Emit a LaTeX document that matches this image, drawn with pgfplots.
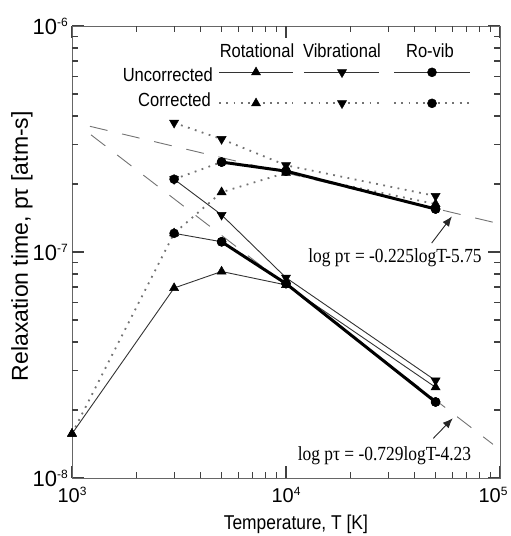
\documentclass[border=0pt]{standalone}
\usepackage{fontspec}
\setmainfont{Liberation Sans}
\newfontfamily\narrowsans[FakeStretch=0.87]{Liberation Sans}
\newfontfamily\narrowserif[FakeStretch=0.87]{Liberation Serif}
\usepackage{pgfplots}
\pgfplotsset{compat=1.18}
\usetikzlibrary{arrows.meta}
\tikzset{tk/.style={draw=black!75, line width=1.2pt}}
\newcommand{\ytl}[1]{\fontsize{22}{22}\selectfont 10\raisebox{8pt}{\fontsize{12}{12}\selectfont #1}}
\newcommand{\xtl}[1]{\fontsize{20}{20}\selectfont 10\raisebox{7pt}{\fontsize{12}{12}\selectfont #1}}
\begin{document}
\begin{tikzpicture}
\begin{axis}[
  xmode=log, ymode=log,
  xmin=1000, xmax=100000, ymin=1e-8, ymax=1e-6,
  scale only axis, width=428pt, height=452pt,
  clip=false,
  axis line style={black!60, line width=0.9pt},
  tickwidth=12pt, subtickwidth=6pt,
  tick align=inside,
  tick style={draw=black!75, line width=1.2pt},
  xtick={1000,10000,100000},
  xticklabels={\xtl{3},\xtl{4},\xtl{5}\kern14pt},
  minor xtick={2000,3000,4000,5000,6000,7000,8000,9000,20000,30000,40000,50000,60000,70000,80000,90000},
  ytick={1e-8,1e-7,1e-6},
  yticklabels={\ytl{-8},\ytl{-7},\ytl{-6}},
  minor ytick={2e-8,3e-8,4e-8,5e-8,6e-8,7e-8,8e-8,9e-8,2e-7,3e-7,4e-7,5e-7,6e-7,7e-7,8e-7,9e-7},
  xticklabel style={anchor=north, inner sep=0pt, yshift=-9pt},
  yticklabel style={anchor=base east, inner sep=0pt, xshift=-4pt, yshift=-8pt},
  thinl/.style={black!80, line width=0.9pt},
  dots/.style={black!55, line width=1.8pt, dash pattern=on 1.8pt off 5.5pt},
  fitl/.style={black!55, line width=0.9pt, dash pattern=on 18pt off 15pt},
  mu/.style={mark=triangle*, mark size=5.2pt, mark options={solid, black, fill=black, line width=0.5pt}},
  md/.style={mark=triangle*, mark size=5.2pt, mark options={solid, black, fill=black, rotate=180, line width=0.5pt}},
  mc/.style={mark=*, mark size=4.5pt, mark options={solid, black, fill=black, line width=0.5pt}},
]
% tick marks on all four sides (positions as fractions of the axis)
\pgfplotsinvokeforeach{0.15051,0.23856,0.30103,0.34949,0.38908,0.42255,0.45154,0.47712,0.65051,0.73856,0.80103,0.84949,0.88908,0.92255,0.95154,0.97712}{
  \draw[tk] (rel axis cs:#1,0) -- (rel axis cs:#1,0.013274);
  \draw[tk] (rel axis cs:#1,1) -- (rel axis cs:#1,0.986726);
  \draw[tk] (rel axis cs:0,#1) -- (rel axis cs:0.014019,#1);
  \draw[tk] (rel axis cs:1,#1) -- (rel axis cs:0.985981,#1);
}
\draw[tk] (rel axis cs:0.5,0) -- (rel axis cs:0.5,0.026549);
\draw[tk] (rel axis cs:0.5,1) -- (rel axis cs:0.5,0.973451);
\draw[tk] (rel axis cs:0,0.5) -- (rel axis cs:0.028037,0.5);
\draw[tk] (rel axis cs:1,0.5) -- (rel axis cs:0.971963,0.5);

% fitted lines
\addplot[fitl] coordinates {(1213,3.60e-7) (92700,1.355e-7)};
\addplot[fitl] coordinates {(1227,3.30e-7) (92700,1.41e-8)};

% corrected (dotted)
\addplot[dots, mu] coordinates {(1000,1.57e-8) (3000,1.21e-7) (5000,1.84e-7) (10000,2.24e-7) (50000,1.63e-7)};
\addplot[dots, md] coordinates {(3000,3.73e-7) (5000,3.16e-7) (10000,2.42e-7) (50000,1.77e-7)};
\addplot[dots, mc] coordinates {(3000,2.10e-7) (5000,2.50e-7) (10000,2.28e-7) (50000,1.55e-7)};

% uncorrected (solid)
\addplot[thinl, mu] coordinates {(1000,1.57e-8) (3000,6.93e-8) (5000,8.2e-8) (10000,7.15e-8) (50000,2.52e-8)};
\addplot[thinl, md] coordinates {(3000,2.10e-7) (5000,1.46e-7) (10000,7.7e-8) (50000,2.70e-8)};
\addplot[thinl, mc] coordinates {(3000,1.21e-7) (5000,1.11e-7) (10000,7.25e-8) (50000,2.17e-8)};

% thick emphasised ro-vib segments
\addplot[black, line width=3pt, mc] coordinates {(5000,2.50e-7) (10000,2.28e-7) (50000,1.55e-7)};
\addplot[black, line width=3pt, mc] coordinates {(5000,1.11e-7) (10000,7.25e-8) (50000,2.17e-8)};

% legend samples
\addplot[thinl, mu, mark indices={2}] coordinates {(4864,6.24e-7) (7244,6.24e-7) (10783,6.24e-7)};
\addplot[thinl, md, mark indices={2}] coordinates {(12130,6.24e-7) (18270,6.24e-7) (27200,6.24e-7)};
\addplot[thinl, mc, mark indices={2}] coordinates {(31970,6.24e-7) (48110,6.24e-7) (72390,6.24e-7)};
\addplot[dots, mu, mark indices={2}] coordinates {(4864,4.55e-7) (7244,4.55e-7) (10783,4.55e-7)};
\addplot[dots, md, mark indices={2}] coordinates {(12130,4.55e-7) (18270,4.55e-7) (27200,4.55e-7)};
\addplot[dots, mc, mark indices={2}] coordinates {(31970,4.55e-7) (48110,4.55e-7) (72390,4.55e-7)};

% legend texts
\node[font=\narrowsans\fontsize{19}{19}\selectfont, anchor=base] at (rel axis cs:0.4322,0.931) {Rotational};
\node[font=\narrowsans\fontsize{19}{19}\selectfont, anchor=base] at (rel axis cs:0.6308,0.931) {Vibrational};
\node[font=\narrowsans\fontsize{19}{19}\selectfont, anchor=base] at (rel axis cs:0.8364,0.931) {Ro-vib};
\node[font=\narrowsans\fontsize{19}{19}\selectfont, anchor=base east, inner sep=0pt] at (rel axis cs:0.3294,0.8783) {Uncorrected};
\node[font=\narrowsans\fontsize{19}{19}\selectfont, anchor=base east, inner sep=0pt] at (rel axis cs:0.3248,0.8230) {Corrected};

% annotations
\node[font=\narrowserif\fontsize{20}{20}\selectfont, anchor=base, inner sep=0pt] at (rel axis cs:0.7547,0.4779) {log pτ = -0.225logT-5.75};
\node[font=\narrowserif\fontsize{20}{20}\selectfont, anchor=base, inner sep=0pt] at (rel axis cs:0.730,0.0383) {log pτ = -0.729logT-4.23};
\draw[-{Latex[length=10pt,width=8pt]}, black!85, line width=0.9pt] (rel axis cs:0.8404,0.5199) -- (rel axis cs:0.8876,0.5788);
\draw[-{Latex[length=10pt,width=8pt]}, black!85, line width=0.9pt] (rel axis cs:0.8442,0.0878) -- (rel axis cs:0.8895,0.1321);

% axis labels
\node[font=\fontsize{23}{23}\selectfont, rotate=90, anchor=center] at (rel axis cs:-0.1168,0.513) {Relaxation time, pτ [atm-s]};
\node[font=\narrowsans\fontsize{20}{20}\selectfont, anchor=north, inner sep=0pt] at (rel axis cs:0.523,-0.0805) {Temperature, T [K]};

\coordinate (bbll) at (rel axis cs:-0.16822,-0.12832);
\coordinate (bbur) at (rel axis cs:1.02570,1.05752);
\end{axis}
\pgfresetboundingbox
\useasboundingbox (bbll) rectangle (bbur);
\end{tikzpicture}
\end{document}
